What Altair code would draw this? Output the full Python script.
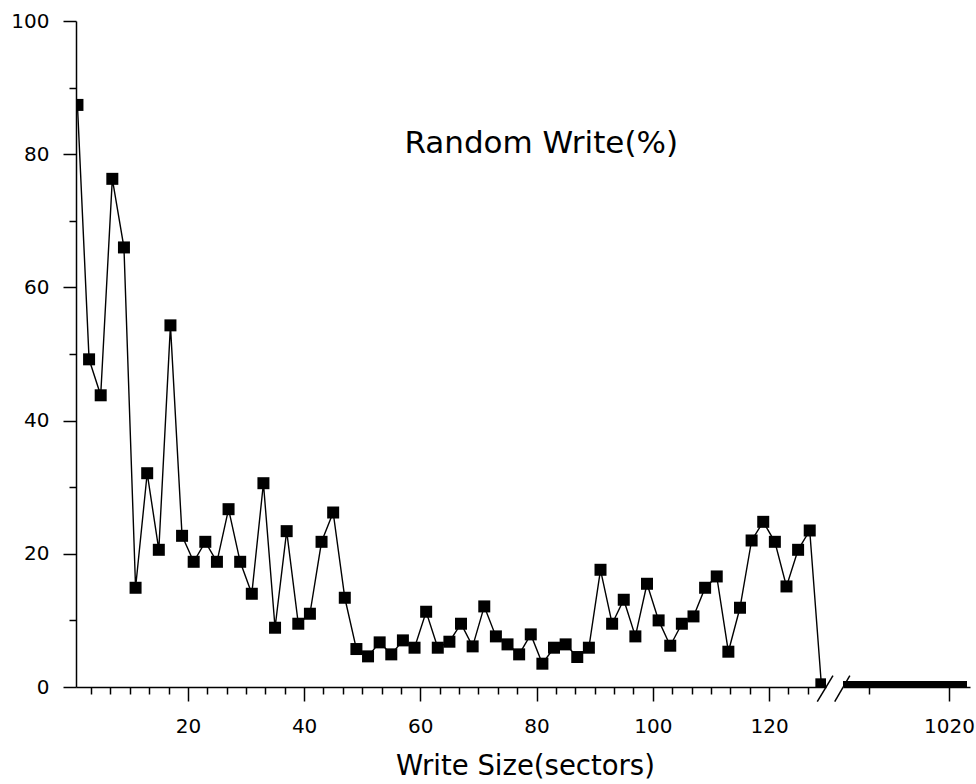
import altair as alt
import pandas as pd

# ---------------- data ----------------
left_x = [1, 3, 5, 7, 9, 11, 13, 15, 17, 19, 21, 23, 25, 27, 29, 31, 33, 35, 37, 39,
          41, 43, 45, 47, 49, 51, 53, 55, 57, 59, 61, 63, 65, 67, 69, 71, 73, 75, 77, 79,
          81, 83, 85, 87, 89, 91, 93, 95, 97, 99, 101, 103, 105, 107, 109, 111, 113, 115,
          117, 119, 121, 123, 125, 127, 129]
left_y = [87.4, 49.2, 43.8, 76.3, 66.0, 14.9, 32.1, 20.6, 54.3, 22.7,
          18.8, 21.8, 18.8, 26.7, 18.8, 14.0, 30.6, 8.9, 23.4, 9.5,
          11.0, 21.8, 26.2, 13.4, 5.7, 4.6, 6.7, 4.9, 7.0, 5.9,
          11.3, 5.9, 6.8, 9.5, 6.1, 12.1, 7.6, 6.4, 4.9, 7.9,
          3.5, 5.9, 6.4, 4.5, 5.9, 17.6, 9.5, 13.1, 7.6, 15.5,
          10.0, 6.2, 9.5, 10.6, 14.9, 16.6, 5.3, 11.9, 22.0, 24.8,
          21.8, 15.1, 20.6, 23.5, 0.4]
right_x = [995, 997, 999, 1001, 1003, 1005, 1007, 1009, 1011, 1013, 1015, 1017, 1019, 1021, 1023]
right_y = [0, 0, 0, 0, 0, 0, 0, 0, 0, 0, 0, 0, 0, 0, 0]

y_ticks = [0, 10, 20, 30, 40, 50, 60, 70, 80, 90, 100]
x_ticks_left = [round(k * 10 / 3, 4) for k in range(1, 39)]
x_ticks_right = [1000, 1020]
x_labeled_right = 1020

annotation = ["Random Write(%)"]
x_title = "Write Size(sectors)"

FONT = "DejaVu Sans"
BLACK = "#000000"

left_df = pd.DataFrame({"x": left_x, "y": left_y})
right_df = pd.DataFrame({"x": right_x, "y": right_y})
ann_df = pd.DataFrame({"t": annotation, "x": [80.8], "y": [81.5]})
brk_df = pd.DataFrame({"bx": [128.3, 131.3], "bx2": [131.0, 133.9],
                       "by": [-2.2, -2.2], "by2": [1.7, 1.7]})

# ---------------- scales & axes ----------------
ys = alt.Scale(domain=[0, 100], nice=False, zero=False)
xs_left = alt.Scale(domain=[0.75, 129.8], nice=False, zero=False)
xs_right = alt.Scale(domain=[993.5, 1025.25], nice=False, zero=False)

major_x = "abs(datum.value/20 - round(datum.value/20)) < 0.001"
major_r = f"datum.value === {x_labeled_right}"
common_axis = dict(grid=False, domainColor=BLACK, domainWidth=1.5, tickColor=BLACK,
                   tickWidth=1.5, labelColor=BLACK, labelFont=FONT, labelFontSize=20,
                   labelOverlap=False, labelFlush=False)

x_axis_left = alt.Axis(values=x_ticks_left,
                       labelExpr=f"{major_x} ? format(datum.value, 'd') : ''",
                       tickSize={"condition": {"test": major_x, "value": 14}, "value": 7},
                       labelPadding=15,
                       title=x_title, titleFont=FONT, titleFontSize=27.5,
                       titleFontWeight="normal", titleColor=BLACK,
                       titleX=449, titleY=87, titleAlign="center",
                       titleBaseline="alphabetic", titleAngle=0,
                       **common_axis)
x_axis_right = alt.Axis(values=x_ticks_right,
                        labelExpr=f"{major_r} ? format(datum.value, 'd') : ''",
                        tickSize={"condition": {"test": major_r, "value": 14}, "value": 7},
                        labelPadding=15, title=None, **common_axis)
y_axis = alt.Axis(values=y_ticks,
                  labelExpr="datum.value % 20 === 0 ? datum.label : ''",
                  tickSize={"condition": {"test": "datum.value % 20 === 0", "value": 13}, "value": 7},
                  labelPadding=14, title=None, **common_axis)

XL = lambda f: alt.X(f, type="quantitative", scale=xs_left, axis=x_axis_left)
YL = lambda f: alt.Y(f, type="quantitative", scale=ys, axis=y_axis)

base_left = alt.Chart(left_df)
line_left = base_left.mark_line(color=BLACK, strokeWidth=1.4, clip=True).encode(x=XL("x"), y=YL("y"))
pts_left = base_left.mark_point(shape="square", filled=True, size=144, color=BLACK,
                                opacity=1, clip=True).encode(x=XL("x"), y=YL("y"))
ann = alt.Chart(ann_df).mark_text(font=FONT, fontSize=31, color=BLACK).encode(
    x=XL("x"), y=YL("y"), text="t:N")
brk = alt.Chart(brk_df).mark_rule(color=BLACK, strokeWidth=1.5, clip=False).encode(
    x=XL("bx"), x2="bx2", y=YL("by"), y2="by2")

left = alt.layer(line_left, pts_left, ann, brk).properties(width=750, height=666)

XR = lambda f: alt.X(f, type="quantitative", scale=xs_right, axis=x_axis_right)
YR = lambda f: alt.Y(f, type="quantitative", scale=ys, axis=None)
base_right = alt.Chart(right_df)
line_right = base_right.mark_line(color=BLACK, strokeWidth=1.4, clip=True).encode(x=XR("x"), y=YR("y"))
pts_right = base_right.mark_point(shape="square", filled=True, size=144, color=BLACK,
                                  opacity=1, clip=True).encode(x=XR("x"), y=YR("y"))
right = alt.layer(line_right, pts_right).properties(width=127, height=666)

chart = alt.hconcat(left, right, spacing=17, bounds="flush").resolve_scale(
    x="independent").properties(
    padding={"left": 10, "top": 11, "right": 0, "bottom": 0},
    background="white",
).configure_view(stroke=None)

chart.save("out.html", embed_options={"renderer": "svg", "actions": False})
